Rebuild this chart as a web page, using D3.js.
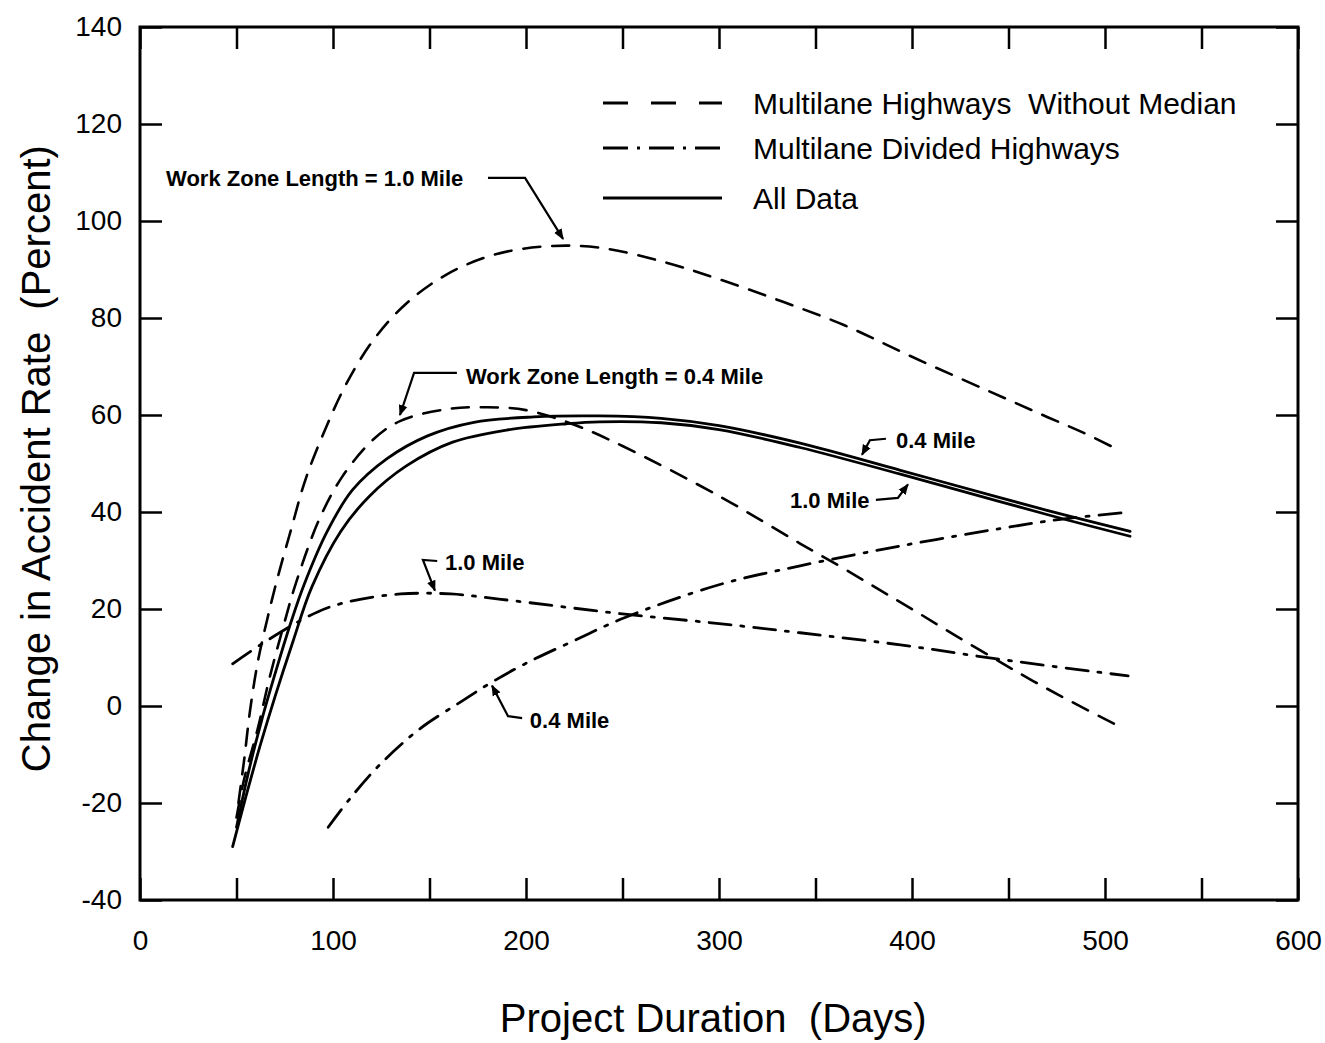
<!DOCTYPE html>
<html>
<head>
<meta charset="utf-8">
<script src="https://cdn.jsdelivr.net/npm/d3@7"></script>
<style>
  html, body { margin: 0; padding: 0; background: #fff; }
  svg text { font-family: "Liberation Sans", Arial, Helvetica, sans-serif; fill: #000; white-space: pre; }
</style>
</head>
<body>
<svg id="chart" width="1325" height="1043"></svg>
<script>
// ── Data ──
const xTicks = d3.range(0, 601, 50);
const yTicks = d3.range(-40, 141, 20);

// Multilane highways without median, 1.0 mile
const noMedian10Days = [51, 54, 57, 61, 66, 71, 78, 86, 97, 107, 121, 138, 159, 183, 211, 238, 272, 300, 332, 365, 400, 449, 470, 489, 508];
const noMedian10Vals = [-20, -11, -1, 9, 18, 26, 36, 47, 58, 66.5, 75.5, 83, 89, 93, 94.8, 94.5, 91.5, 88, 83.5, 78.5, 72, 63.3, 59.6, 56.3, 52.6];

// Multilane highways without median, 0.4 mile
const noMedian04Days = [50, 54, 61, 67, 74, 81, 93, 105, 121, 135, 159, 180, 200, 225, 250, 300, 342, 364, 383, 402, 423, 446, 463, 483, 507];
const noMedian04Vals = [-23, -15, -4.7, 5.6, 16, 25.6, 38.6, 47.4, 55, 58.8, 61.2, 61.6, 61, 58, 53.6, 43.3, 33.5, 28.5, 24, 19.5, 14.4, 9, 5.1, 0.8, -4.1];

// Multilane divided highways, 1.0 mile
const divided10Days = [48, 67, 92, 109, 135, 161, 187, 250, 300, 342, 394, 446, 512];
const divided10Vals = [8.7, 13.8, 19.4, 21.6, 23.1, 23.1, 22, 19, 17, 15.1, 12.6, 9.6, 6.2];

// Multilane divided highways, 0.4 mile
const divided04Days = [97.5, 109, 124, 145, 166, 181, 200, 225, 251, 300, 342, 394, 446, 477, 513];
const divided04Vals = [-25, -19, -12.2, -4.7, 0.8, 4.6, 8.8, 13.5, 18.2, 25, 28.9, 33, 36.6, 38.5, 40];

// All data, 0.4 mile
const all04Days = [50, 56, 63, 71, 78, 85, 97, 110, 128, 149, 173, 204, 238, 270, 300, 342, 394, 446, 480, 513];
const all04Vals = [-25, -14, -3, 8, 17, 25, 36, 44.5, 51, 55.7, 58.5, 59.6, 59.8, 59.3, 57.8, 54.2, 48.6, 42.9, 39.3, 36];

// All data, 1.0 mile
const all10Days = [48, 55, 62, 70, 79, 89, 104, 119, 138, 162, 190, 221, 238, 270, 300, 342, 394, 446, 480, 513];
const all10Vals = [-29, -18.5, -8.5, 2, 13, 24.5, 36, 43.3, 49.5, 54.4, 56.9, 58.2, 58.6, 58.4, 57, 53.3, 47.8, 42.1, 38.4, 35];

// Legend entries
const legendLabels = ['Multilane Highways  Without Median', 'Multilane Divided Highways', 'All Data'];

// Annotations: text anchor (day, value) and leader path in data units
const annotations = [
  { text: 'Work Zone Length = 1.0 Mile', at: [13.5, 108.9], leader: [[180.3, 108.9], [199.5, 108.9], [219.2, 96.3]] },
  { text: 'Work Zone Length = 0.4 Mile', at: [168.9, 68.0], leader: [[164.2, 68.7], [142, 68.7], [134.7, 60.0]] },
  { text: '1.0 Mile', at: [158, 29.7], leader: [[154, 29.9], [146.6, 30.1], [152.8, 23.8]] },
  { text: '0.4 Mile', at: [202, -2.9], leader: [[198, -2.5], [190.7, -2.1], [182.4, 4.2]] },
  { text: '0.4 Mile', at: [391.7, 54.8], leader: [[386.5, 55.1], [378.2, 54.8], [374.1, 51.8]] },
  { text: '1.0 Mile', at: [336.8, 42.5], leader: [[381.3, 42.5], [392.7, 42.9], [397.9, 45.7]] },
];

// ── Layout ──
const margin = { top: 27, right: 27, bottom: 143, left: 140 };
const W = 1325, H = 1043;
const width = W - margin.left - margin.right;
const height = H - margin.top - margin.bottom;

const svg = d3.select('#chart');
const g = svg.append('g').attr('transform', `translate(${margin.left},${margin.top})`);

const x = d3.scaleLinear().domain([0, 600]).range([0, width]);
const y = d3.scaleLinear().domain([-40, 140]).range([height, 0]);

// Arrowhead for leader lines
svg.append('defs').append('marker')
  .attr('id', 'arrow')
  .attr('viewBox', '0 0 10 10')
  .attr('refX', 9).attr('refY', 5)
  .attr('markerWidth', 5).attr('markerHeight', 5)
  .attr('markerUnits', 'strokeWidth')
  .attr('orient', 'auto')
  .append('path').attr('d', 'M0,1 L10,5 L0,9 Z').attr('fill', '#000');

// ── Axes (ticks inward on all four sides) ──
const tickLen = 22;
function styleAxis(sel) {
  sel.select('.domain').remove();
  sel.selectAll('line').attr('stroke', '#000').attr('stroke-width', 2.5);
  sel.selectAll('text').attr('font-size', '28px').attr('fill', '#000')
    .attr('font-family', '"Liberation Sans", Arial, Helvetica, sans-serif');
}

g.append('g')
  .attr('transform', `translate(0,${height})`)
  .call(d3.axisBottom(x).tickValues(xTicks).tickSize(-tickLen).tickPadding(30)
    .tickFormat(d => d % 100 === 0 ? String(d) : ''))
  .call(styleAxis);

g.append('g')
  .call(d3.axisTop(x).tickValues(xTicks).tickSize(-tickLen).tickFormat(''))
  .call(styleAxis);

g.append('g')
  .call(d3.axisLeft(y).tickValues(yTicks).tickSize(-tickLen).tickPadding(18)
    .tickFormat(d => String(d)))
  .call(styleAxis);

g.append('g')
  .attr('transform', `translate(${width},0)`)
  .call(d3.axisRight(y).tickValues(yTicks).tickSize(-tickLen).tickFormat(''))
  .call(styleAxis);

// Frame
g.append('rect')
  .attr('x', 0).attr('y', 0).attr('width', width).attr('height', height)
  .attr('fill', 'none').attr('stroke', '#000').attr('stroke-width', 3);

// ── Curves ──
const line = d3.line()
  .x(d => x(d[0]))
  .y(d => y(d[1]))
  .curve(d3.curveCatmullRom.alpha(0.5));

const zip = (a, b) => a.map((v, i) => [v, b[i]]);

const series = [
  { days: noMedian10Days, vals: noMedian10Vals, dash: '17,12', w: 2.6 },
  { days: noMedian04Days, vals: noMedian04Vals, dash: '17,12', w: 2.6 },
  { days: divided10Days, vals: divided10Vals, dash: '22,10,3,10', w: 2.8 },
  { days: divided04Days, vals: divided04Vals, dash: '22,10,3,10', w: 2.8 },
  { days: all04Days, vals: all04Vals, dash: null, w: 2.8 },
  { days: all10Days, vals: all10Vals, dash: null, w: 2.8 },
];

for (const s of series) {
  g.append('path')
    .datum(zip(s.days, s.vals))
    .attr('fill', 'none')
    .attr('stroke', '#000')
    .attr('stroke-width', s.w)
    .attr('stroke-dasharray', s.dash)
    .attr('stroke-linecap', 'round')
    .attr('d', line);
}

// ── Annotations ──
const leaderLine = d3.line().x(d => x(d[0])).y(d => y(d[1]));
for (const a of annotations) {
  g.append('path')
    .datum(a.leader)
    .attr('fill', 'none')
    .attr('stroke', '#000')
    .attr('stroke-width', 2.2)
    .attr('marker-end', 'url(#arrow)')
    .attr('d', leaderLine);

  g.append('text')
    .attr('x', x(a.at[0]))
    .attr('y', y(a.at[1]))
    .attr('dy', '0.36em')
    .attr('font-size', '22px')
    .attr('font-weight', 'bold')
    .text(a.text);
}

// ── Legend ──
const legendDash = ['25,23', '25,9,3,9', null];
const legend = svg.append('g').attr('transform', 'translate(603,103)');
legendLabels.forEach((label, i) => {
  const ly = [0, 45, 95][i];
  legend.append('line')
    .attr('x1', 0).attr('x2', 119).attr('y1', ly).attr('y2', ly)
    .attr('stroke', '#000').attr('stroke-width', 3)
    .attr('stroke-dasharray', legendDash[i]);
  legend.append('text')
    .attr('x', 150).attr('y', ly).attr('dy', '0.36em')
    .attr('font-size', '30px')
    .text(label);
});

// ── Axis titles ──
svg.append('text')
  .attr('x', margin.left + x(297)).attr('y', 1032)
  .attr('text-anchor', 'middle')
  .attr('font-size', '40px')
  .text('Project Duration  (Days)');

svg.append('text')
  .attr('transform', `translate(50,${margin.top + y(51)}) rotate(-90)`)
  .attr('text-anchor', 'middle')
  .attr('font-size', '40px')
  .text('Change in Accident Rate  (Percent)');
</script>
</body>
</html>
